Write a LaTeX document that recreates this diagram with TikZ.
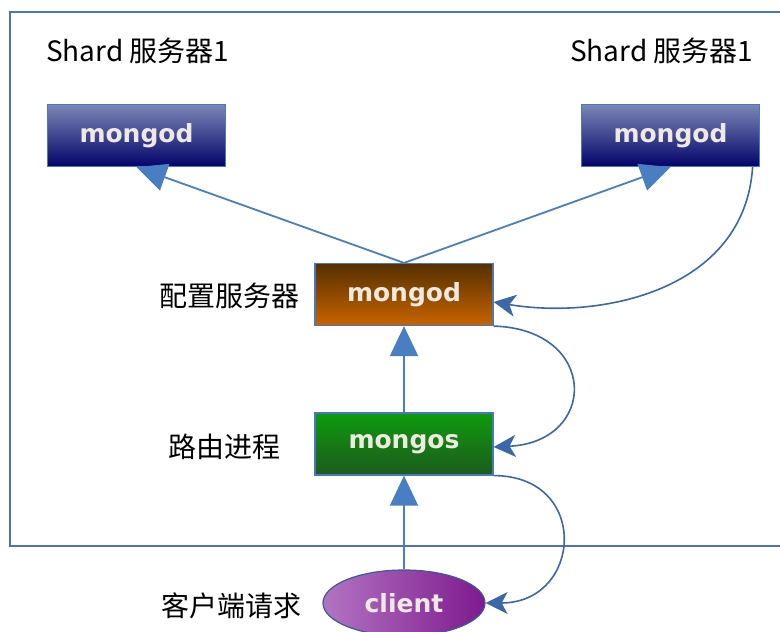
\documentclass[tikz,border=0pt]{standalone}
\usepackage{fontspec}
\usetikzlibrary{arrows.meta,shapes.geometric}
\newfontfamily\cjk{Noto Sans CJK SC}
\newfontfamily\boxfont{DejaVu Sans}
\definecolor{frameblue}{HTML}{4A74B2}
\definecolor{linkblue}{HTML}{4A7EC2}
\definecolor{curveblue}{HTML}{3A68A8}
\definecolor{boxedge}{HTML}{4A78C0}
\definecolor{boxtext}{HTML}{EEEAE2}
\definecolor{navytop}{HTML}{7C87B6}
\definecolor{navymid}{HTML}{22287F}
\definecolor{navybot}{HTML}{03036A}
\definecolor{browntop}{HTML}{553000}
\definecolor{brownmid}{HTML}{8C4A06}
\definecolor{brownbot}{HTML}{C86400}
\definecolor{greentop}{HTML}{0E9A0E}
\definecolor{greenmid}{HTML}{147A14}
\definecolor{greenbot}{HTML}{1D5B1D}
\definecolor{purpleleft}{HTML}{B274C2}
\definecolor{purpleright}{HTML}{7E1A8E}
\definecolor{ellipseedge}{HTML}{3C5A9A}
\begin{document}
\begin{tikzpicture}[x=1pt,y=1pt,
  box/.style={draw=boxedge, line width=1.2pt, minimum width=178pt, minimum height=62pt,
    inner sep=0pt, text=boxtext, font=\boxfont\bfseries\fontsize{25}{29}\selectfont},
  shardbox/.style={box, top color=navytop, middle color=navymid, bottom color=navybot},
  cfgbox/.style={box, top color=browntop, middle color=brownmid, bottom color=brownbot},
  routebox/.style={box, top color=greentop, middle color=greenmid, bottom color=greenbot},
  clientshape/.style={ellipse, draw=ellipseedge, line width=1.2pt, minimum width=162pt,
    minimum height=66pt, inner sep=0pt, left color=purpleleft, right color=purpleright,
    text=boxtext, font=\boxfont\bfseries\fontsize{25}{29}\selectfont},
  label/.style={inner sep=0pt, font=\cjk\fontsize{28}{32}\selectfont, text=black},
  straight/.style={draw=linkblue, line width=1.8pt, -{Triangle[length=30pt,width=28pt]}},
  curved/.style={draw=curveblue, line width=1.6pt, -{Stealth[length=22pt,width=22pt,inset=6pt]}},
  frame/.style={draw=frameblue, line width=1.8pt}
]
\useasboundingbox (0,0) rectangle (780,632);
\fill[white] (0,0) rectangle (780,632);

% frame (open on the right)
\coordinate (ftr) at (790,620);
\coordinate (ftl) at (10,620);
\coordinate (fbl) at (10,86);
\coordinate (fbr) at (790,86);
\draw[frame] (ftr) -- (ftl) -- (fbl) -- (fbr);

% labels
\node[label, anchor=west] (l1) at (46,581) {Shard 服务器1};
\node[label, anchor=west] (l2) at (570,581) {Shard 服务器1};
\node[label, anchor=east] (l3) at (300,336) {配置服务器};
\node[label, anchor=east] (l4) at (281,185) {路由进程};
\node[label, anchor=east] (l5) at (302,26) {客户端请求};

% nodes
\node[shardbox] (lm) at (136.5,496.5) {mongod};
\node[shardbox] (rm) at (670.5,496.5) {mongod};
\node[cfgbox] (cfg) at (404,337.5) {mongod};
\node[routebox] (ms) at (404,188) {mongos};
\node[clientshape] (cl) at (404,29) {client};

% straight connectors
\draw[straight] (cfg.north) -- (lm.south);
\draw[straight] (cfg.north) -- (rm.south);
\draw[straight] (ms.north) -- (cfg.south);
\draw[straight] (cl.north) -- (ms.south);

% curved connectors
\draw[curved] ([xshift=-7.5pt]rm.south east) .. controls +(-8,-123) and +(108,-18) .. ([yshift=-7.5pt]cfg.east);
\draw[curved] (cfg.south east) .. controls +(105,-3) and +(105,5) .. ([yshift=-3pt]ms.east);
\draw[curved] (ms.south east) .. controls +(97,0) and +(97,0) .. (cl.east);
\end{tikzpicture}
\end{document}
